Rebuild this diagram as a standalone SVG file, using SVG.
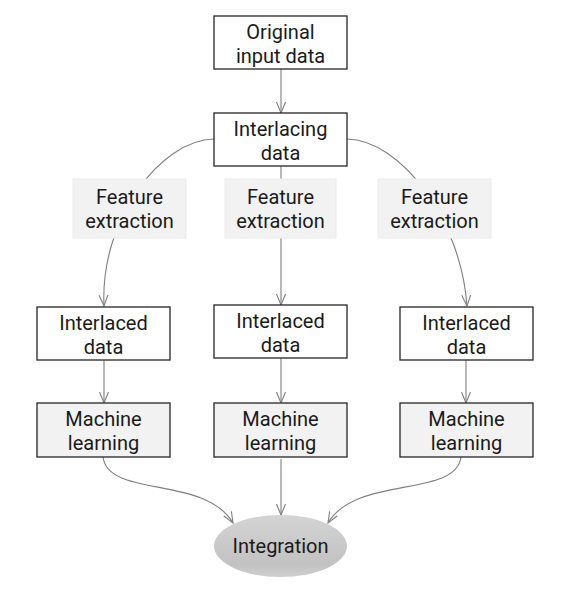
<svg xmlns="http://www.w3.org/2000/svg" width="565" height="591" viewBox="0 0 565 591">
<defs>
<style>
.box{fill:#ffffff;stroke:#262626;stroke-width:1.3}
.ml{fill:#f2f2f2;stroke:#262626;stroke-width:1.3}
.fe{fill:#f2f2f2;stroke:#ebebeb;stroke-width:1}
text{font-family:Roboto,"Open Sans","Liberation Sans",sans-serif;font-size:20px;fill:#1a1a1a;text-anchor:middle}
.c{fill:none;stroke:#7f7f7f;stroke-width:1.1}
</style>
<marker id="arr" viewBox="0 0 12 12" refX="11" refY="6" markerWidth="12" markerHeight="12" markerUnits="userSpaceOnUse" orient="auto">
<path d="M0,1.5 L11,6 L0,10.5" fill="none" stroke="#7f7f7f" stroke-width="1.1"/>
</marker>
<linearGradient id="g" x1="0" y1="0" x2="0" y2="1">
<stop offset="0" stop-color="#d4d4d4"/>
<stop offset="0.8" stop-color="#c2c2c2"/>
<stop offset="1" stop-color="#cfcfcf"/>
</linearGradient>
</defs>
<g id="connectors">
<line class="c" x1="281" y1="69" x2="281" y2="113" marker-end="url(#arr)"/>
<path class="c" d="M214,139 C160,140 100,220 104,306" marker-end="url(#arr)"/>
<line class="c" x1="281" y1="166" x2="281" y2="305" marker-end="url(#arr)"/>
<path class="c" d="M347,139 C401,140 461,220 467,306" marker-end="url(#arr)"/>
<line class="c" x1="104" y1="360" x2="104" y2="403" marker-end="url(#arr)"/>
<line class="c" x1="281" y1="358" x2="281" y2="403" marker-end="url(#arr)"/>
<line class="c" x1="466" y1="360" x2="466" y2="403" marker-end="url(#arr)"/>
<path class="c" d="M103,457 C108,498 205,475 233,523" marker-end="url(#arr)"/>
<line class="c" x1="281" y1="459" x2="281" y2="515" marker-end="url(#arr)"/>
<path class="c" d="M461,457 C456,498 356,475 328,523" marker-end="url(#arr)"/>
</g>
<g id="original">
<rect class="box" x="214" y="16" width="133" height="53"/>
<text x="280.5" y="39">Original<tspan x="280.5" dy="24">input data</tspan></text>
</g>
<g id="interlacing">
<rect class="box" x="214" y="113" width="133" height="53"/>
<text x="280.5" y="136">Interlacing<tspan x="280.5" dy="24">data</tspan></text>
</g>
<g id="fe-left">
<rect class="fe" x="73" y="179" width="113" height="59"/>
<text x="129.5" y="204">Feature<tspan x="129.5" dy="24">extraction</tspan></text>
</g>
<g id="fe-mid">
<rect class="fe" x="225" y="179" width="111" height="59"/>
<text x="280.5" y="204">Feature<tspan x="280.5" dy="24">extraction</tspan></text>
</g>
<g id="fe-right">
<rect class="fe" x="378" y="179" width="113" height="59"/>
<text x="434.5" y="204">Feature<tspan x="434.5" dy="24">extraction</tspan></text>
</g>
<g id="il-left">
<rect class="box" x="37" y="307" width="133" height="53"/>
<text x="103.5" y="330">Interlaced<tspan x="103.5" dy="24">data</tspan></text>
</g>
<g id="il-mid">
<rect class="box" x="214" y="305" width="133" height="53"/>
<text x="280.5" y="328">Interlaced<tspan x="280.5" dy="24">data</tspan></text>
</g>
<g id="il-right">
<rect class="box" x="400" y="307" width="133" height="53"/>
<text x="466.5" y="330">Interlaced<tspan x="466.5" dy="24">data</tspan></text>
</g>
<g id="ml-left">
<rect class="ml" x="37" y="403" width="133" height="54"/>
<text x="103.5" y="426">Machine<tspan x="103.5" dy="24">learning</tspan></text>
</g>
<g id="ml-mid">
<rect class="ml" x="214" y="403" width="133" height="54"/>
<text x="280.5" y="426">Machine<tspan x="280.5" dy="24">learning</tspan></text>
</g>
<g id="ml-right">
<rect class="ml" x="400" y="403" width="133" height="54"/>
<text x="466.5" y="426">Machine<tspan x="466.5" dy="24">learning</tspan></text>
</g>
<g id="integration">
<ellipse cx="280.5" cy="546" rx="66.5" ry="31" fill="url(#g)"/>
<text x="280.5" y="553">Integration</text>
</g>
</svg>
